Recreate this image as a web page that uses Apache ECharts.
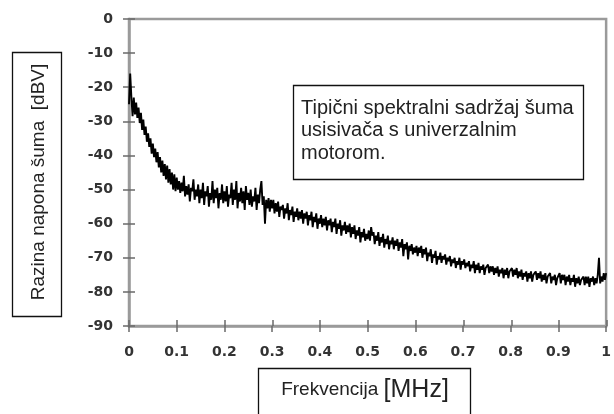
<!DOCTYPE html>
<html><head><meta charset="utf-8">
<script src="https://cdn.jsdelivr.net/npm/echarts@6/dist/echarts.min.js"></script>
<style>html,body{margin:0;padding:0;background:#fff}#c{width:614px;height:414px}</style>
</head><body><div id="c"></div>
<script>
// Frequency samples: 0 .. 1 MHz, step 0.0025
const freqStep = 0.0025;
// Noise level in dBV, one per frequency sample (20 per 0.05 MHz)
const levelDbv = [
-25,-16,-23,-28.5,-23,-28,-24.5,-29,-26,-30.5,-27.5,-32.5,-29.5,-34,-31.5,-36,-33.5,-37.5,-35,-39.5,
-36.5,-40.5,-38,-42,-39,-43.5,-40.5,-45,-41.5,-46,-42.5,-47,-43,-48,-44,-48.5,-45,-50,-45.5,-50.5,
-46.5,-50,-47.5,-51,-48,-50.5,-46,-52,-49,-51.5,-48.5,-53.5,-49.5,-50.5,-47,-53,-50,-52,-48.5,-54,
-50,-52.5,-48,-54.5,-50.5,-52,-49,-55,-51,-53,-47.5,-54,-50,-52.5,-49.5,-55.5,-51,-53,-48.5,-54,
-50.5,-53.5,-49,-55,-51.5,-52.5,-48,-54.5,-50,-53,-47.5,-55.5,-51,-53.5,-49.5,-54,-50.5,-56,-49,-53,
-51,-54.5,-50,-55,-52,-53.5,-49.5,-56,-51.5,-54,-50,-47.5,-54.5,-52,-60,-53,-55.5,-52.5,-56.5,-53,
-55.5,-53,-57,-54,-56.5,-53.5,-58,-55,-56,-54.5,-58.5,-55.5,-57,-54,-59,-56,-57.5,-55,-59.5,-56.5,
-58,-55.5,-59,-56.5,-58.5,-56,-60,-57,-58.5,-56.5,-60.5,-57.5,-59,-56.5,-61,-58,-59.5,-57,-61.5,-58.5,
-60,-57.5,-61,-58.5,-60.5,-58,-62,-59,-60.5,-58.5,-62.5,-59.5,-61,-58.5,-63,-60,-61.5,-59,-63.5,-60.5,
-62,-59.5,-63,-60.5,-62.5,-60,-64,-61,-63,-60.5,-64.5,-62,-63.5,-61,-65.5,-62.5,-64,-61.5,-65,-63,
-64.5,-62,-65,-61,-63.5,-62.5,-66,-63.5,-65,-62.5,-66.5,-64,-65.5,-63,-67,-64.5,-66,-63.5,-67.5,-65,
-66,-64,-67.5,-65,-66.5,-64.5,-68,-65.5,-67,-64.5,-69.5,-66,-67.5,-65.5,-70.5,-66.5,-68,-66,-69,-67,
-68.5,-66.5,-69.5,-67,-68.5,-66.5,-70,-67.5,-69,-67,-71,-68.5,-69.5,-67.5,-71.5,-69,-70,-68,-72,-69.5,
-70.5,-68.5,-71.5,-69.5,-70.5,-69,-72,-70,-71,-69.5,-72.5,-70.5,-71.5,-70,-73,-71,-72,-70,-73.5,-71,
-72,-70.5,-73,-71.5,-72.5,-71,-74,-72,-73,-71,-74.5,-72,-73.5,-71.5,-74.5,-72.5,-73.5,-72,-75,-73,
-73.5,-72,-74.5,-72.5,-74,-72.5,-75,-73,-74.5,-72.5,-75.5,-73.5,-74.5,-73,-76,-73.5,-75,-73,-76,-74,
-74.5,-73,-75.5,-73.5,-75,-73,-76,-74,-75.5,-73.5,-76.5,-74.5,-75.5,-74,-77,-74.5,-76,-74,-77,-75,
-75.5,-74,-76.5,-74.5,-76,-74,-77,-75,-76.5,-74.5,-77.5,-75.5,-76,-74.5,-77.5,-75.5,-76.5,-75,-78,-76,
-76,-74.5,-77.5,-75,-76.5,-75,-78,-75.5,-77,-75,-78,-76,-77,-75,-78.5,-76,-77.5,-75.5,-78,-76.5,
-77,-75.5,-78,-75.5,-77.5,-75.5,-78.5,-76,-77,-75.5,-78,-76,-77.5,-75,-70,-77.5,-75.5,-77,-74.5,-76.5,
-74.5
];
const xTicks = [0,0.1,0.2,0.3,0.4,0.5,0.6,0.7,0.8,0.9,1];
const yTicks = [0,-10,-20,-30,-40,-50,-60,-70,-80,-90];
const yTitle = 'Razina napona šuma  [dBV]';
const xTitleMain = 'Frekvencija ';
const xTitleUnit = '[MHz]';
const noteLines = ['Tipični spektralni sadržaj šuma','usisivača s univerzalnim','motorom.'];

const seriesData = levelDbv.map((v,i)=>[+(i*freqStep).toFixed(4), v]);
const axisGray = '#9a9a9a';
const tickStyle = {color:'#6a6a6a', width:1.5};
const lblStyle = {color:'#333', fontWeight:'bold', fontSize:14, fontFamily:'DejaVu Sans, sans-serif'};
const gridRect = {left:129, right:7, top:19, bottom:88};
const fmt = (v,list)=>{const r=Math.round(v*10)/10; return list.includes(r)?String(r):'';};

const chart = echarts.init(document.getElementById('c'), null, {renderer:'canvas'});
chart.setOption({
  animation:false,
  backgroundColor:'#fff',
  grid:[
    {...gridRect, show:true, borderColor:axisGray, borderWidth:2.5, backgroundColor:'transparent'},
    {...gridRect, show:false}
  ],
  xAxis:[{
    gridIndex:0, type:'value', min:0, max:1, interval:0.1,
    axisLine:{show:true, onZero:false, lineStyle:{color:axisGray, width:2.5}},
    axisTick:{show:true, length:6, lineStyle:tickStyle},
    splitLine:{show:false},
    axisLabel:{...lblStyle, margin:19, formatter:v=>fmt(v,xTicks)}
  },{
    gridIndex:1, type:'value', min:0, max:1, interval:0.1, position:'bottom',
    axisLine:{show:false, onZero:false}, axisTick:{show:true, inside:true, length:6, lineStyle:tickStyle},
    axisLabel:{show:false}, splitLine:{show:false}
  }],
  yAxis:[{
    gridIndex:0, type:'value', min:-90, max:0, interval:10,
    axisLine:{show:true, onZero:false, lineStyle:{color:axisGray, width:2.5}},
    axisTick:{show:true, length:6, lineStyle:tickStyle},
    splitLine:{show:false},
    axisLabel:{...lblStyle, margin:16, formatter:v=>yTicks.includes(v)?String(v):''}
  },{
    gridIndex:1, type:'value', min:-90, max:0, interval:10, position:'left',
    axisLine:{show:false, onZero:false}, axisTick:{show:true, inside:true, length:6, lineStyle:tickStyle},
    axisLabel:{show:false}, splitLine:{show:false}
  }],
  series:[{
    type:'line', data:seriesData, xAxisIndex:0, yAxisIndex:0,
    showSymbol:false, symbol:'none',
    lineStyle:{color:'#000', width:1.9}
  }],
  graphic:[
    {type:'rect', shape:{x:12.5,y:52.5,width:49,height:264}, style:{fill:'#fff', stroke:'#111', lineWidth:1.3}},
    {type:'text', x:39, y:182, rotation:Math.PI/2,
     style:{text:yTitle, fill:'#222', font:'19px "Liberation Sans", Arial, sans-serif', align:'center', verticalAlign:'middle'}},
    {type:'rect', shape:{x:258.5,y:368.5,width:212,height:60}, style:{fill:'#fff', stroke:'#111', lineWidth:1.3}},
    {type:'text', x:365, y:390,
     style:{text:'{a|'+xTitleMain+'}{b|'+xTitleUnit+'}', align:'center', verticalAlign:'middle',
       rich:{a:{fill:'#222', font:'19px "Liberation Sans", Arial, sans-serif'},
             b:{fill:'#222', font:'25px "Liberation Sans", Arial, sans-serif'}}}},
    {type:'rect', shape:{x:293.5,y:85.5,width:290,height:94}, style:{fill:'#fff', stroke:'#111', lineWidth:1.3}},
    {type:'text', x:301, y:97,
     style:{text:noteLines.join('\n'), fill:'#222', font:'20px "Liberation Sans", Arial, sans-serif', lineHeight:22.5, align:'left', verticalAlign:'top'}}
  ]
});
</script></body></html>
